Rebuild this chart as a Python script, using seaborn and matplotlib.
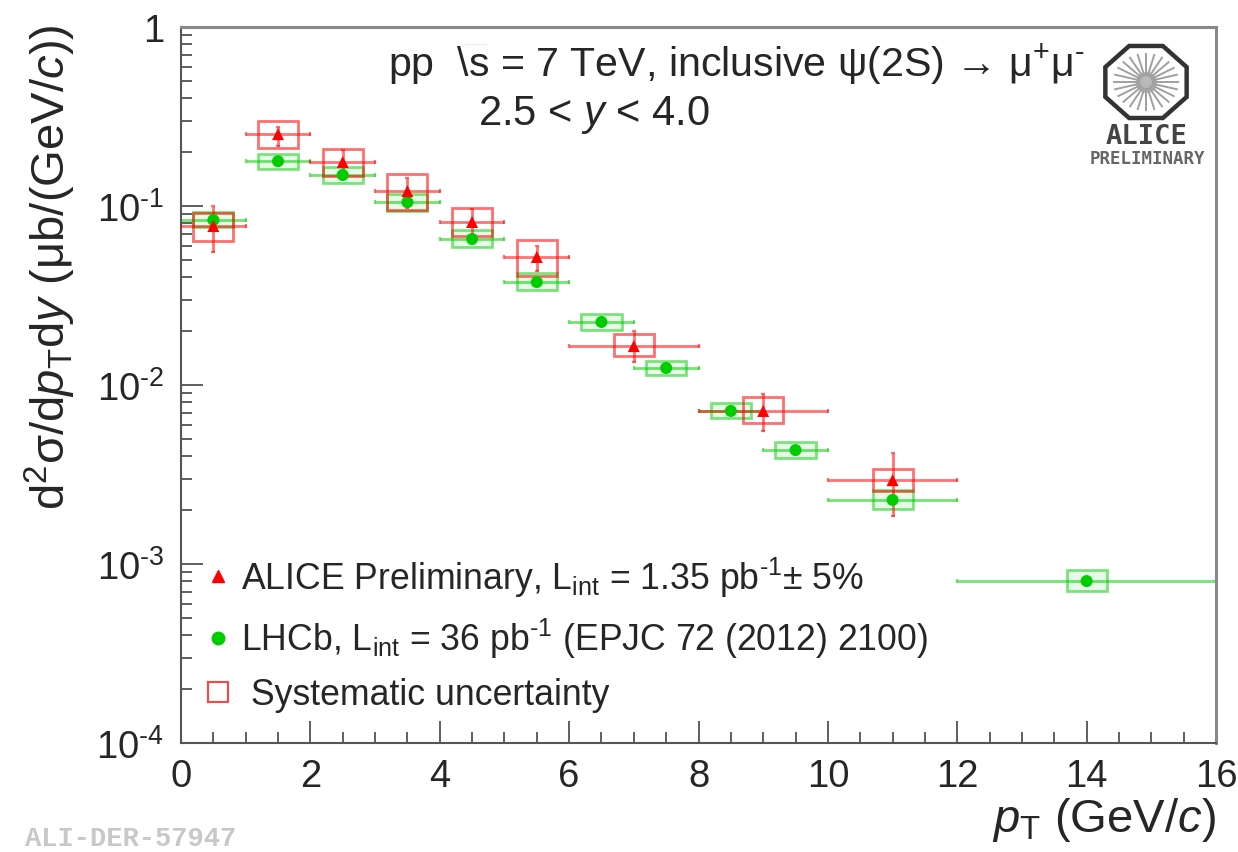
import numpy as np
import pandas as pd
import matplotlib
matplotlib.use("Agg")
import matplotlib.pyplot as plt
import seaborn as sns
from matplotlib.lines import Line2D
from matplotlib.patches import Polygon
from matplotlib.ticker import FixedLocator, FuncFormatter, MultipleLocator, LogLocator

# ===========================
# Data
# ===========================
alice_x = [0.5, 1.5, 2.5, 3.5, 4.5, 5.5, 7, 9, 11]
alice_xerr = [0.5, 0.5, 0.5, 0.5, 0.5, 0.5, 1, 1, 1]
alice_y = [0.0773, 0.252, 0.176, 0.121, 0.0814, 0.0519, 0.0165, 0.00716, 0.00294]
alice_stat_hi = [0.100, 0.276, 0.205, 0.143, 0.096, 0.0598, 0.0200, 0.0089, 0.00417]
alice_stat_lo = [0.0553, 0.216, 0.151, 0.0975, 0.068, 0.0433, 0.0134, 0.00553, 0.00185]
alice_sys_hi = [0.0915, 0.298, 0.208, 0.151, 0.0975, 0.0646, 0.0193, 0.00857, 0.0034]
alice_sys_lo = [0.0637, 0.211, 0.147, 0.095, 0.068, 0.0406, 0.0145, 0.00613, 0.00256]

lhcb_x = [0.5, 1.5, 2.5, 3.5, 4.5, 5.5, 6.5, 7.5, 8.5, 9.5, 11, 14]
lhcb_xerr = [0.5, 0.5, 0.5, 0.5, 0.5, 0.5, 0.5, 0.5, 0.5, 0.5, 1, 2]
lhcb_y = [0.0835, 0.178, 0.149, 0.105, 0.0654, 0.0376, 0.0225, 0.01245, 0.00716, 0.00433, 0.00228, 0.000803]
lhcb_sys_hi = [0.092, 0.196, 0.165, 0.117, 0.073, 0.042, 0.0248, 0.0137, 0.0079, 0.0048, 0.0026, 0.00092]
lhcb_sys_lo = [0.076, 0.161, 0.134, 0.094, 0.059, 0.0338, 0.0203, 0.0113, 0.0065, 0.0039, 0.00202, 0.00071]

y_major = [1e-4, 1e-3, 1e-2, 1e-1, 1]

RED = "#ff0000"
GREEN = "#00cc00"
INK = "#262626"
HYPHEN = "\u2010"
W, H = 1238, 853

# ===========================
# Theme
# ===========================
sns.set_theme(style="ticks")
plt.rcParams["font.family"] = ["Liberation Sans", "DejaVu Sans"]
plt.rcParams["mathtext.fontset"] = "custom"
plt.rcParams["mathtext.rm"] = "Liberation Sans"
plt.rcParams["mathtext.it"] = "Liberation Sans:italic"
plt.rcParams["mathtext.bf"] = "Liberation Sans:bold"
plt.rcParams["text.color"] = INK

fig = plt.figure(figsize=(W / 100, H / 100), dpi=100)
ax = fig.add_axes([181 / W, 1 - 744 / H, (1216 - 181) / W, (744 - 28) / H])

# ===========================
# Points and uncertainties
# ===========================
df = pd.concat([
    pd.DataFrame({"pt": lhcb_x, "val": lhcb_y, "series": "LHCb"}),
    pd.DataFrame({"pt": alice_x, "val": alice_y, "series": "ALICE"}),
])

alice_low = np.array(alice_y) - np.array(alice_stat_lo)
alice_high = np.array(alice_stat_hi) - np.array(alice_y)

ax.errorbar(lhcb_x, lhcb_y, xerr=lhcb_xerr, fmt="none", ecolor=GREEN, elinewidth=2,
            capsize=1.5, capthick=1.6, alpha=0.55, zorder=2)
ax.errorbar(alice_x, alice_y, xerr=alice_xerr, yerr=[alice_low, alice_high], fmt="none",
            ecolor=RED, elinewidth=2, capsize=1.5, capthick=1.6, alpha=0.55, zorder=3)

ax.bar(lhcb_x, np.array(lhcb_sys_hi) - np.array(lhcb_sys_lo), bottom=lhcb_sys_lo, width=0.62,
       facecolor=GREEN + "18", edgecolor=GREEN + "80", linewidth=2, zorder=2)
ax.bar(alice_x, np.array(alice_sys_hi) - np.array(alice_sys_lo), bottom=alice_sys_lo, width=0.62,
       fill=False, edgecolor=RED + "90", linewidth=2, zorder=3)

sns.scatterplot(data=df, x="pt", y="val", hue="series", style="series",
                palette={"ALICE": RED, "LHCb": GREEN}, markers={"ALICE": "^", "LHCb": "o"},
                s=75, linewidth=0, legend=False, ax=ax, zorder=4)

# ===========================
# Axes
# ===========================
ax.set_yscale("log")
ax.set_xlim(0, 16)
ax.set_ylim(1e-4, 1)

ax.xaxis.set_major_locator(MultipleLocator(2))
ax.xaxis.set_minor_locator(MultipleLocator(0.5))
ax.yaxis.set_major_locator(FixedLocator(y_major))
ax.yaxis.set_minor_locator(LogLocator(base=10, subs=np.arange(2, 10), numticks=12))
ax.yaxis.set_minor_formatter(plt.NullFormatter())


def y_label(v, pos):
    if v == 1:
        return "1"
    return r"$\mathregular{10^{%s%d}}$" % (HYPHEN, abs(round(np.log10(v))))


ax.yaxis.set_major_formatter(FuncFormatter(y_label))

ax.tick_params(axis="both", which="major", direction="in", length=16, width=1.2,
               color="#444444", labelsize=27.5, labelcolor=INK)
ax.tick_params(axis="both", which="minor", direction="in", length=8, width=1.2, color="#444444")
ax.tick_params(axis="x", which="major", pad=11)
ax.tick_params(axis="y", which="major", pad=12)

for side in ax.spines.values():
    side.set_color("#555555")
    side.set_linewidth(1.5)
ax.spines["top"].set_color("#888888")
ax.spines["top"].set_linewidth(2.2)
ax.spines["right"].set_color("#888888")
ax.spines["right"].set_linewidth(2.2)

ax.set_xlabel("")
ax.set_ylabel("")
fig.text(1216 / W, 1 - 820 / H, r"$\mathit{p}_{\mathrm{T}}$ (GeV/$\mathit{c}$)", fontsize=34,
         ha="right", va="center")
fig.text(50 / W, 1 - 267 / H,
         r"d$^{2}$σ/d$\mathit{p}_{\mathrm{T}}$d$\mathit{y}$ (μb/(GeV/$\mathit{c}$))",
         fontsize=34, rotation=90, ha="center", va="center")

# ===========================
# Labels in the plot
# ===========================
fig.text(388 / W, 1 - 65 / H, "pp  \\s = 7 TeV, inclusive ψ(2S) → μ$^{+}$μ$^{%s}$" % HYPHEN,
         fontsize=29.6, ha="left", va="center")
fig.text(478 / W, 1 - 115 / H, r"2.5 < $\mathit{y}$ < 4.0", fontsize=30, ha="left", va="center")
fig.add_artist(Line2D([465 / W, 486 / W], [1 - 45 / H, 1 - 45 / H], color="#eeeeee", lw=1))

handles = [
    Line2D([], [], linestyle="none", marker="^", color=RED, markersize=9),
    Line2D([], [], linestyle="none", marker="o", color=GREEN, markersize=9),
    Line2D([], [], linestyle="none", marker="s", markerfacecolor="none",
           markeredgecolor=RED + "bb", markeredgewidth=1.5, markersize=15),
]
labels = [
    r"ALICE Preliminary, L$_{\mathrm{int}}$ = 1.35 pb$^{%s1}$$\pm$ 5%%" % HYPHEN,
    r"LHCb, L$_{\mathrm{int}}$ = 36 pb$^{%s1}$ (EPJC 72 (2012) 2100)" % HYPHEN,
    " Systematic uncertainty",
]
ax.legend(handles, labels, frameon=False, fontsize=25.7, loc="lower left",
          bbox_to_anchor=(-0.009, 0.003), handletextpad=0.15, labelspacing=0.48,
          handlelength=1.0, borderpad=0.3, labelcolor=INK)

# ===========================
# ALICE logo and figure id
# ===========================
logo = fig.add_axes([0, 0, 1, 1], zorder=5)
logo.set_xlim(0, W)
logo.set_ylim(H, 0)
logo.axis("off")
logo.patch.set_alpha(0)

cx, cy = 1146, 83
corners = np.arange(8) * np.pi / 4 + np.pi / 8
logo.add_patch(Polygon(np.c_[cx + 44 * np.cos(corners), cy + 39 * np.sin(corners)], closed=True,
                       fill=False, edgecolor="#333333", linewidth=3.2))
for a in np.arange(0, 2 * np.pi, 2 * np.pi / 24):
    logo.plot([cx + 6 * np.cos(a), cx + 33 * np.cos(a)], [cy + 6 * np.sin(a), cy + 29 * np.sin(a)],
              color="#a0a0a0", lw=1.4, solid_capstyle="butt")
logo.scatter([cx], [cy], s=230, color="#b8b8b8", linewidth=0)
logo.text(1147, 137, "ALICE", family="DejaVu Sans Mono", weight="bold", fontsize=19.5,
          color="#444444", ha="center", va="center")
logo.text(1147, 159, "PRELIMINARY", family="DejaVu Sans Mono", weight="bold", fontsize=12.5,
          color="#666666", ha="center", va="center")

fig.text(25 / W, 1 - 839 / H, "ALI-DER-57947", family="Liberation Mono", weight="bold",
         fontsize=19.5, color="#c8c8c8", ha="left", va="center")

fig.savefig("out.png", dpi=100)
